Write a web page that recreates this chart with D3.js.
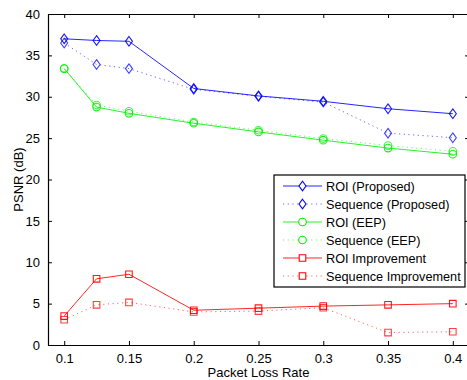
<!DOCTYPE html>
<html>
<head>
<meta charset="utf-8">
<script src="https://cdn.jsdelivr.net/npm/d3@7"></script>
<style>
  html, body { margin: 0; padding: 0; background: #fff; }
  svg { display: block; font-family: "Liberation Sans", Arial, Helvetica, sans-serif; }
</style>
</head>
<body>
<svg id="chart" width="467" height="380"></svg>
<script>
// Packet loss rates at which PSNR was measured
const lossRates = [0.1, 0.125, 0.15, 0.2, 0.25, 0.3, 0.35, 0.4];
const xTicks = [0.1, 0.15, 0.2, 0.25, 0.3, 0.35, 0.4];
const yTicks = [0, 5, 10, 15, 20, 25, 30, 35, 40];

// PSNR (dB) per scheme
const roiProposed      = [37.0, 36.8, 36.7, 31.0, 30.1, 29.45, 28.55, 27.95];
const seqProposed      = [36.5, 33.9, 33.4, 30.9, 30.05, 29.35, 25.6, 25.05];
const roiEEP           = [33.4, 28.75, 28.0, 26.8, 25.75, 24.75, 23.8, 23.05];
const seqEEP           = [33.4, 29.0, 28.25, 26.95, 25.95, 24.95, 24.1, 23.4];
const roiImprovement   = [3.5, 8.0, 8.55, 4.2, 4.45, 4.7, 4.85, 5.0];
const seqImprovement   = [3.05, 4.85, 5.15, 4.0, 4.1, 4.5, 1.5, 1.6];

const seriesNames = ["ROI (Proposed)", "Sequence (Proposed)", "ROI (EEP)",
                     "Sequence (EEP)", "ROI Improvement", "Sequence Improvement"];
const seriesValues = [roiProposed, seqProposed, roiEEP, seqEEP, roiImprovement, seqImprovement];
const seriesColors = ["#0000ff", "#0000ff", "#00f000", "#00f000", "#ff0000", "#ff0000"];
const seriesDotted = [false, true, false, true, false, true];
const seriesMarkers = ["diamond", "diamond", "circle", "circle", "square", "square"];

const svg = d3.select("#chart");
const margin = { left: 48, top: 14, right: 469, bottom: 345 };

const x = d3.scaleLinear().domain([0.0875, 0.4125]).range([margin.left, margin.right]);
const y = d3.scaleLinear().domain([0, 40]).range([margin.bottom, margin.top]);

const fontSize = 13;
const legendFontSize = 12.7;
const tickLen = 4;

// marker path generator centred on origin
function markerPath(kind) {
  if (kind === "diamond") return "M0,-4.8L3.5,0L0,4.8L-3.5,0Z";
  if (kind === "square") return "M-3.3,-3.3H3.3V3.3H-3.3Z";
  return d3.arc()({ innerRadius: 0, outerRadius: 3.8, startAngle: 0, endAngle: 2 * Math.PI });
}

// plot box
const plot = svg.append("g");

// axes (ticks inside, mirrored on top and right)
const axBottom = d3.axisBottom(x).tickValues(xTicks).tickSizeInner(-tickLen).tickSizeOuter(0)
  .tickPadding(9).tickFormat(d3.format("~g"));
const axTop = d3.axisTop(x).tickValues(xTicks).tickSizeInner(-tickLen).tickSizeOuter(0).tickFormat("");
const axLeft = d3.axisLeft(y).tickValues(yTicks).tickSizeInner(-tickLen).tickSizeOuter(0)
  .tickPadding(8).tickFormat(d3.format("d"));
const axRight = d3.axisRight(y).tickValues(yTicks).tickSizeInner(-tickLen).tickSizeOuter(0).tickFormat("");

function styleAxis(g) {
  g.select(".domain").attr("stroke", "#000").attr("stroke-width", 1.2);
  g.selectAll(".tick line").attr("stroke", "#000").attr("stroke-width", 1);
  g.selectAll(".tick text").attr("fill", "#000").style("font-size", fontSize + "px")
    .style("font-family", "'Liberation Sans', Arial, sans-serif");
}

plot.append("g").attr("transform", `translate(0,${margin.bottom})`).call(axBottom).call(styleAxis);
plot.append("g").attr("transform", `translate(0,${margin.top})`).call(axTop).call(styleAxis);
plot.append("g").attr("transform", `translate(${margin.left},0)`).call(axLeft).call(styleAxis);
plot.append("g").attr("transform", `translate(${margin.right},0)`).call(axRight).call(styleAxis);

// series lines and markers
const line = d3.line().x((d, i) => x(lossRates[i])).y(d => y(d));
seriesValues.forEach((vals, s) => {
  const g = plot.append("g");
  g.append("path")
    .attr("d", line(vals))
    .attr("fill", "none")
    .attr("stroke", seriesColors[s])
    .attr("stroke-width", 1)
    .attr("stroke-opacity", seriesDotted[s] ? 0.6 : 0.85)
    .attr("stroke-dasharray", seriesDotted[s] ? "1.2,3.5" : null);
  g.selectAll("path.mk").data(vals).enter().append("path")
    .attr("class", "mk")
    .attr("d", markerPath(seriesMarkers[s]))
    .attr("transform", (d, i) => `translate(${x(lossRates[i])},${y(d)})`)
    .attr("fill", "none")
    .attr("stroke", seriesColors[s])
    .attr("stroke-width", 1.1)
    .attr("stroke-opacity", seriesDotted[s] ? 0.75 : 0.9);
});

// axis titles
svg.append("text")
  .attr("x", (margin.left + margin.right) / 2)
  .attr("y", 377)
  .attr("text-anchor", "middle")
  .style("font-size", fontSize + "px")
  .text("Packet Loss Rate");

svg.append("text")
  .attr("transform", `translate(23,${(margin.top + margin.bottom) / 2}) rotate(-90)`)
  .attr("text-anchor", "middle")
  .style("font-size", fontSize + "px")
  .text("PSNR (dB)");

// legend
const legend = svg.append("g");
const lgX = 274, lgY = 175, lgW = 191, lgH = 112, rowH = 18;
legend.append("rect")
  .attr("x", lgX).attr("y", lgY).attr("width", lgW).attr("height", lgH)
  .attr("fill", "#fff").attr("stroke", "#000").attr("stroke-width", 1.2);

seriesNames.forEach((name, s) => {
  const cy = lgY + 11 + s * rowH;
  legend.append("line")
    .attr("x1", lgX + 9).attr("x2", lgX + 48).attr("y1", cy).attr("y2", cy)
    .attr("stroke", seriesColors[s]).attr("stroke-width", 1)
    .attr("stroke-opacity", seriesDotted[s] ? 0.6 : 0.85)
    .attr("stroke-dasharray", seriesDotted[s] ? "1.2,3.5" : null);
  legend.append("path")
    .attr("d", markerPath(seriesMarkers[s]))
    .attr("transform", `translate(${lgX + 28.5},${cy})`)
    .attr("fill", "#fff")
    .attr("stroke", seriesColors[s]).attr("stroke-width", 1.1);
  legend.append("text")
    .attr("x", lgX + 52).attr("y", cy + 4.5)
    .style("font-size", legendFontSize + "px")
    .text(name);
});
</script>
</body>
</html>
